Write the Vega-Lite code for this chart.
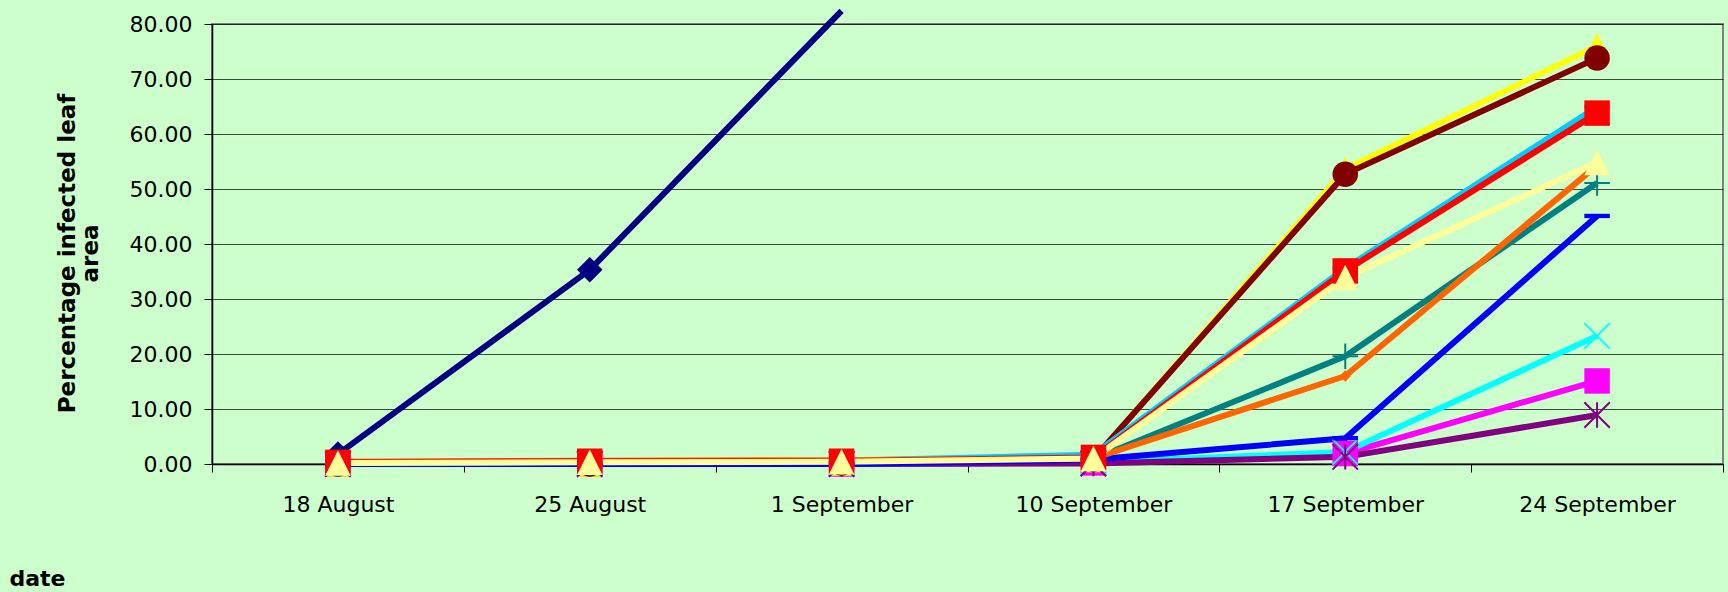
{
  "$schema": "https://vega.github.io/schema/vega-lite/v6.json",
  "width": 1511,
  "height": 440,
  "autosize": {"type": "none"},
  "padding": {"left": 212, "top": 24, "right": 5, "bottom": 128},
  "background": "#CCFFCC",
  "config": {
    "view": {"fill": "#CCFFCC", "stroke": "#808080", "strokeWidth": 2},
    "font": "DejaVu Sans"
  },
  "datasets": {
    "infection": [
      {"series": "Series 01", "date": "18 August", "value": 1.8},
      {"series": "Series 01", "date": "25 August", "value": 35.3},
      {"series": "Series 01", "date": "1 September", "value": 82.4},

      {"series": "Series 02", "date": "18 August", "value": 0.0},
      {"series": "Series 02", "date": "25 August", "value": 0.0},
      {"series": "Series 02", "date": "1 September", "value": 0.0},
      {"series": "Series 02", "date": "10 September", "value": 0.2},
      {"series": "Series 02", "date": "17 September", "value": 1.9},
      {"series": "Series 02", "date": "24 September", "value": 15.1},

      {"series": "Series 03", "date": "18 August", "value": 0.0},
      {"series": "Series 03", "date": "25 August", "value": 0.0},
      {"series": "Series 03", "date": "1 September", "value": 0.2},
      {"series": "Series 03", "date": "10 September", "value": 0.8},
      {"series": "Series 03", "date": "17 September", "value": 53.6},
      {"series": "Series 03", "date": "24 September", "value": 76.0},

      {"series": "Series 04", "date": "18 August", "value": 0.0},
      {"series": "Series 04", "date": "25 August", "value": 0.0},
      {"series": "Series 04", "date": "1 September", "value": 0.0},
      {"series": "Series 04", "date": "10 September", "value": 0.3},
      {"series": "Series 04", "date": "17 September", "value": 2.2},
      {"series": "Series 04", "date": "24 September", "value": 23.3},

      {"series": "Series 05", "date": "18 August", "value": 0.0},
      {"series": "Series 05", "date": "25 August", "value": 0.0},
      {"series": "Series 05", "date": "1 September", "value": 0.0},
      {"series": "Series 05", "date": "10 September", "value": 0.1},
      {"series": "Series 05", "date": "17 September", "value": 1.3},
      {"series": "Series 05", "date": "24 September", "value": 8.9},

      {"series": "Series 06", "date": "18 August", "value": 0.0},
      {"series": "Series 06", "date": "25 August", "value": 0.0},
      {"series": "Series 06", "date": "1 September", "value": 0.2},
      {"series": "Series 06", "date": "10 September", "value": 0.9},
      {"series": "Series 06", "date": "17 September", "value": 52.7},
      {"series": "Series 06", "date": "24 September", "value": 73.8},

      {"series": "Series 07", "date": "18 August", "value": 0.0},
      {"series": "Series 07", "date": "25 August", "value": 0.2},
      {"series": "Series 07", "date": "1 September", "value": 0.3},
      {"series": "Series 07", "date": "10 September", "value": 0.9},
      {"series": "Series 07", "date": "17 September", "value": 19.6},
      {"series": "Series 07", "date": "24 September", "value": 51.1},

      {"series": "Series 08", "date": "18 August", "value": 0.0},
      {"series": "Series 08", "date": "25 August", "value": 0.0},
      {"series": "Series 08", "date": "1 September", "value": 0.0},
      {"series": "Series 08", "date": "10 September", "value": 0.8},
      {"series": "Series 08", "date": "17 September", "value": 4.7},
      {"series": "Series 08", "date": "24 September", "value": 45.1},

      {"series": "Series 09", "date": "18 August", "value": 0.2},
      {"series": "Series 09", "date": "25 August", "value": 0.4},
      {"series": "Series 09", "date": "1 September", "value": 0.6},
      {"series": "Series 09", "date": "10 September", "value": 1.7},
      {"series": "Series 09", "date": "17 September", "value": 35.6},
      {"series": "Series 09", "date": "24 September", "value": 64.9},

      {"series": "Series 10", "date": "18 August", "value": 0.4},
      {"series": "Series 10", "date": "25 August", "value": 0.6},
      {"series": "Series 10", "date": "1 September", "value": 0.7},
      {"series": "Series 10", "date": "10 September", "value": 1.0},
      {"series": "Series 10", "date": "17 September", "value": 16.0},
      {"series": "Series 10", "date": "24 September", "value": 54.3},

      {"series": "Series 11", "date": "18 August", "value": 0.3},
      {"series": "Series 11", "date": "25 August", "value": 0.5},
      {"series": "Series 11", "date": "1 September", "value": 0.5},
      {"series": "Series 11", "date": "10 September", "value": 1.2},
      {"series": "Series 11", "date": "17 September", "value": 35.1},
      {"series": "Series 11", "date": "24 September", "value": 63.8},

      {"series": "Series 12", "date": "18 August", "value": 0.2},
      {"series": "Series 12", "date": "25 August", "value": 0.3},
      {"series": "Series 12", "date": "1 September", "value": 0.4},
      {"series": "Series 12", "date": "10 September", "value": 1.0},
      {"series": "Series 12", "date": "17 September", "value": 33.9},
      {"series": "Series 12", "date": "24 September", "value": 54.8}
    ]
  },
  "data": {"name": "infection"},
  "encoding": {
    "x": {
      "field": "date",
      "type": "ordinal",
      "sort": ["18 August", "25 August", "1 September", "10 September", "17 September", "24 September"],
      "bandPosition": 0.5,
      "scale": {"type": "band", "paddingInner": 0, "paddingOuter": 0},
      "axis": {
        "title": "date",
        "titleAnchor": "start",
        "titleAlign": "left",
        "titleX": -203,
        "titleY": 121,
        "titleBaseline": "alphabetic",
        "titleFont": "DejaVu Sans",
        "titleFontWeight": "bold",
        "titleFontSize": 22,
        "titleColor": "#000000",
        "labelFont": "DejaVu Sans",
        "labelFontSize": 22,
        "labelColor": "#000000",
        "labelAngle": 0,
        "labelPadding": 22,
        "tickBand": "extent",
        "tickSize": 8,
        "tickColor": "#000000",
        "domainColor": "#000000",
        "domainWidth": 1.5,
        "grid": false
      }
    },
    "y": {
      "field": "value",
      "type": "quantitative",
      "scale": {"domain": [0, 80], "nice": false, "zero": true},
      "axis": {
        "title": ["Percentage infected leaf", "area"],
        "values": [0, 10, 20, 30, 40, 50, 60, 70, 80],
        "format": ".2f",
        "labelFont": "DejaVu Sans",
        "labelFontSize": 22,
        "labelColor": "#000000",
        "labelPadding": 12,
        "tickSize": 8,
        "tickColor": "#000000",
        "domainColor": "#000000",
        "domainWidth": 1.5,
        "grid": true,
        "gridColor": "#000000",
        "gridOpacity": 0.7,
        "gridWidth": 1,
        "titleFont": "DejaVu Sans",
        "titleFontWeight": "bold",
        "titleFontSize": 23,
        "titleColor": "#000000",
        "titleLineHeight": 23,
        "titleAngle": -90,
        "titleAlign": "center",
        "titleBaseline": "alphabetic",
        "titleX": -138,
        "titleY": 229
      }
    }
  },
  "layer": [
    {
      "mark": {"type": "line", "strokeWidth": 6, "strokeJoin": "round", "clip": false},
      "encoding": {
        "color": {
          "field": "series",
          "type": "nominal",
          "legend": null,
          "scale": {
            "domain": ["Series 01", "Series 02", "Series 03", "Series 04", "Series 05", "Series 06", "Series 07", "Series 08", "Series 09", "Series 10", "Series 11", "Series 12"],
            "range": ["#000080", "#FF00FF", "#FFFF00", "#00FFFF", "#800080", "#800000", "#008080", "#0000FF", "#00CCFF", "#FF6600", "#FF0000", "#FFFF99"]
          }
        }
      }
    },
    {
      "transform": [{"filter": "datum.value <= 80"}],
      "mark": {"type": "point", "opacity": 1, "size": 650, "strokeWidth": 2},
      "encoding": {
        "fill": {
          "condition": {
            "test": "indexof(['Series 04', 'Series 05', 'Series 07'], datum.series) < 0",
            "field": "series",
            "type": "nominal",
            "legend": null,
            "scale": {
              "domain": ["Series 01", "Series 02", "Series 03", "Series 04", "Series 05", "Series 06", "Series 07", "Series 08", "Series 09", "Series 10", "Series 11", "Series 12"],
              "range": ["#000080", "#FF00FF", "#FFFF00", "#00FFFF", "#800080", "#800000", "#008080", "#0000FF", "#00CCFF", "#FF6600", "#FF0000", "#FFFF99"]
            }
          },
          "value": "transparent"
        },
        "stroke": {
          "condition": {
            "test": "indexof(['Series 04', 'Series 05', 'Series 07'], datum.series) >= 0",
            "field": "series",
            "type": "nominal",
            "legend": null,
            "scale": {
              "domain": ["Series 01", "Series 02", "Series 03", "Series 04", "Series 05", "Series 06", "Series 07", "Series 08", "Series 09", "Series 10", "Series 11", "Series 12"],
              "range": ["#000080", "#FF00FF", "#FFFF00", "#00FFFF", "#800080", "#800000", "#008080", "#0000FF", "#00CCFF", "#FF6600", "#FF0000", "#FFFF99"]
            }
          },
          "value": "transparent"
        },
        "shape": {
          "field": "series",
          "type": "nominal",
          "legend": null,
          "scale": {
            "domain": ["Series 01", "Series 02", "Series 03", "Series 04", "Series 05", "Series 06", "Series 07", "Series 08", "Series 09", "Series 10", "Series 11", "Series 12"],
            "range": [
              "M0,-1L1,0L0,1L-1,0Z",
              "M-1,-1L1,-1L1,1L-1,1Z",
              "M0,-1L1,1L-1,1Z",
              "M-1,-1L1,1M-1,1L1,-1",
              "M-1,-1L1,1M-1,1L1,-1M0,-1L0,1",
              "circle",
              "M-1,0L1,0M0,-1L0,1",
              "M-1,-0.17L1,-0.17L1,0.17L-1,0.17Z",
              "M-1,-0.17L1,-0.17L1,0.17L-1,0.17Z",
              "M0,-0.45L0.45,0L0,0.45L-0.45,0Z",
              "M-1,-1L1,-1L1,1L-1,1Z",
              "M0,-1L1,1L-1,1Z"
            ]
          }
        }
      }
    }
  ]
}
